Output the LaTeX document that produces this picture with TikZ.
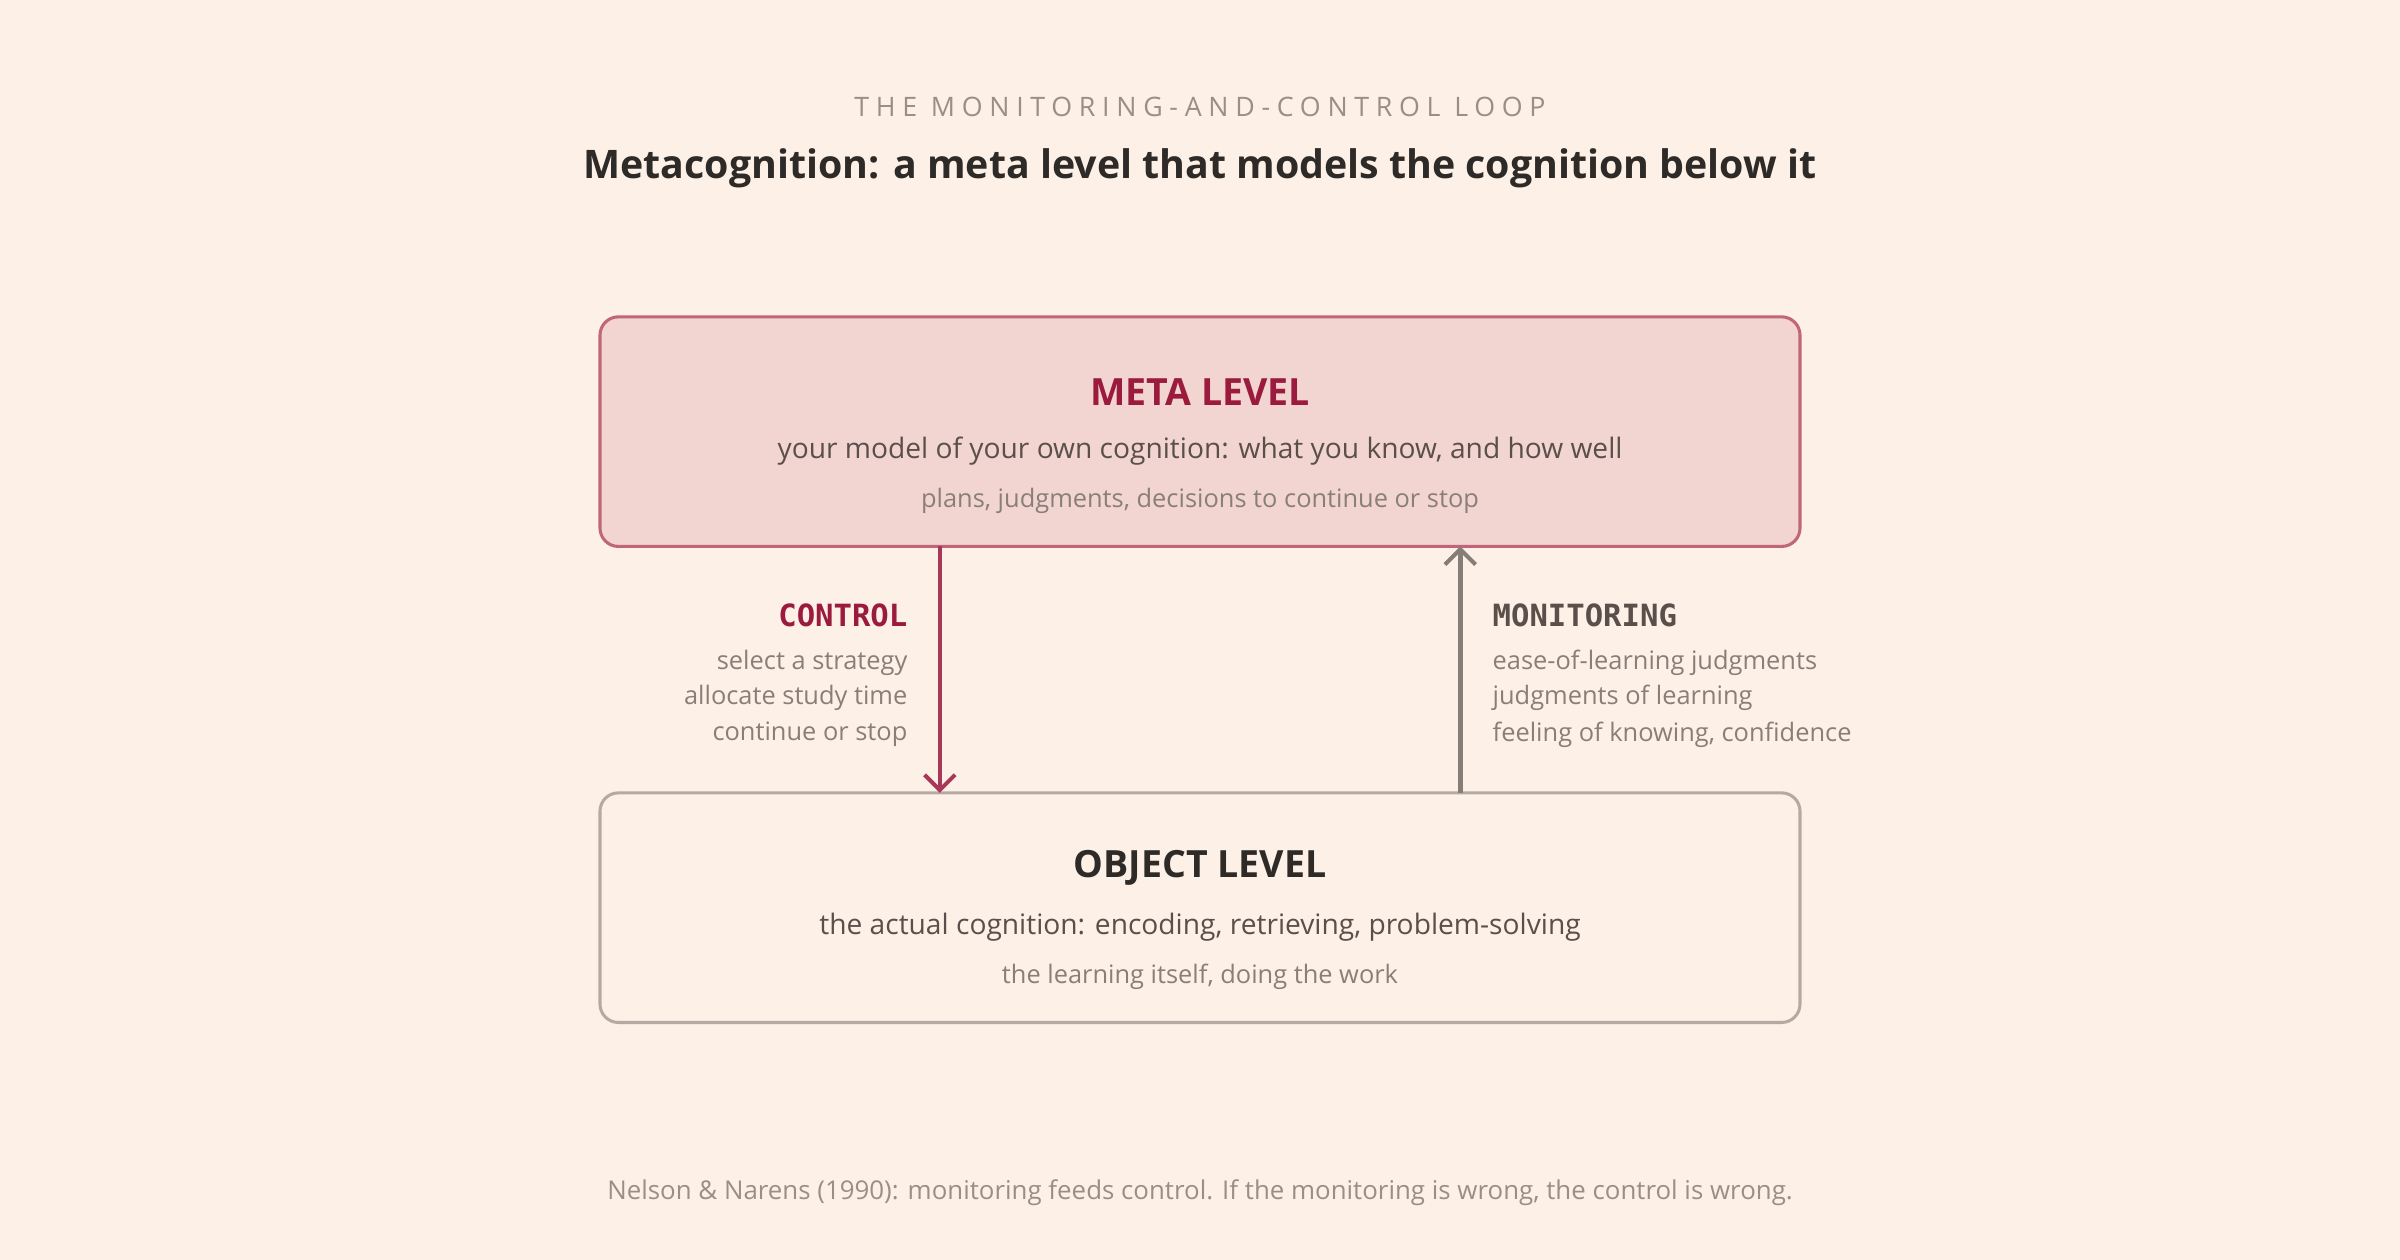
\documentclass[tikz,border=0pt]{standalone}
\usepackage{fontspec}
\setmainfont{Open Sans}
\newfontfamily\monof{DejaVu Sans Mono}
\usetikzlibrary{arrows.meta}
\definecolor{bg}{HTML}{FDF0E6}
\definecolor{metafill}{HTML}{F2D5D0}
\definecolor{metadraw}{HTML}{C0657A}
\definecolor{crimson}{HTML}{9B1B3F}
\definecolor{ctrl}{HTML}{A8385A}
\definecolor{objdraw}{HTML}{B5AAA3}
\definecolor{mon}{HTML}{857D78}
\definecolor{dark}{HTML}{2E2A27}
\definecolor{mid}{HTML}{5A4F4A}
\definecolor{light}{HTML}{8A7F78}
\definecolor{faint}{HTML}{9A8F86}
\tikzset{
  lvlbox/.style={rounded corners=12pt, line width=2pt, minimum width=784pt, minimum height=150pt},
  fs/.style={font=\fontsize{#1}{#1}\selectfont},
  sidelab/.style={inner sep=0pt, text=light, fs=16.6},
  arr/.style={line width=3pt, -{Straight Barb[length=10pt,width=20pt,line width=2.6pt]}},
}
\begin{document}
\begin{tikzpicture}[x=1pt,y=-1pt]
\useasboundingbox[fill=bg] (0,0) rectangle (1568,823);
\node[text=faint, fs=17.5] (sub) at (784,70) {\addfontfeature{LetterSpace=25}THE MONITORING-AND-CONTROL LOOP};
\node[text=dark] (title) at (784,110) {\fontsize{25.7}{26}\selectfont\bfseries Metacognition: a meta level that models the cognition below it};
\node[lvlbox, draw=metadraw, fill=metafill] (meta) at (784,282) {};
\node[lvlbox, draw=objdraw, fill=bg] (obj) at (784,593) {};
\node[text=crimson, font=\fontsize{24.5}{25}\selectfont\bfseries] (mt) at (784,256) {META LEVEL};
\node[text=mid, fs=18.4] (m1) at (784,295) {your model of your own cognition: what you know, and how well};
\node[text=light, fs=16.6] (m2) at (784,327) {plans, judgments, decisions to continue or stop};
\node[text=dark, font=\fontsize{24.5}{25}\selectfont\bfseries] (ot) at (784,567) {OBJECT LEVEL};
\node[text=mid, fs=18.4] (o1) at (784,606) {the actual cognition: encoding, retrieving, problem-solving};
\node[text=light, fs=16.6] (o2) at (784,638) {the learning itself, doing the work};
\coordinate (ct) at (614,357); \coordinate (cb) at (614,518);
\coordinate (mb) at (954,518); \coordinate (mtp) at (954,357);
\draw[ctrl, arr] (ct) -- (cb);
\draw[mon, arr] (mb) -- (mtp);
\node[anchor=east, inner sep=0pt, text=crimson, font=\monof\bfseries\fontsize{20}{20}\selectfont] (cl) at (593,402) {CONTROL};
\node[sidelab, anchor=east] (c1) at (593,433) {select a strategy};
\node[sidelab, anchor=east] (c2) at (593,456) {allocate study time};
\node[sidelab, anchor=east] (c3) at (593,480) {continue or stop};
\node[anchor=west, inner sep=0pt, text=mid, font=\monof\bfseries\fontsize{20}{20}\selectfont] (ml) at (975,402) {MONITORING};
\node[sidelab, anchor=west] (n1) at (975,433) {ease-of-learning judgments};
\node[sidelab, anchor=west] (n2) at (975,456) {judgments of learning};
\node[sidelab, anchor=west] (n3) at (975,480) {feeling of knowing, confidence};
\node[text=faint, fs=16.9] (foot) at (784,779) {Nelson \& Narens (1990): monitoring feeds control. If the monitoring is wrong, the control is wrong.};
\end{tikzpicture}
\end{document}
